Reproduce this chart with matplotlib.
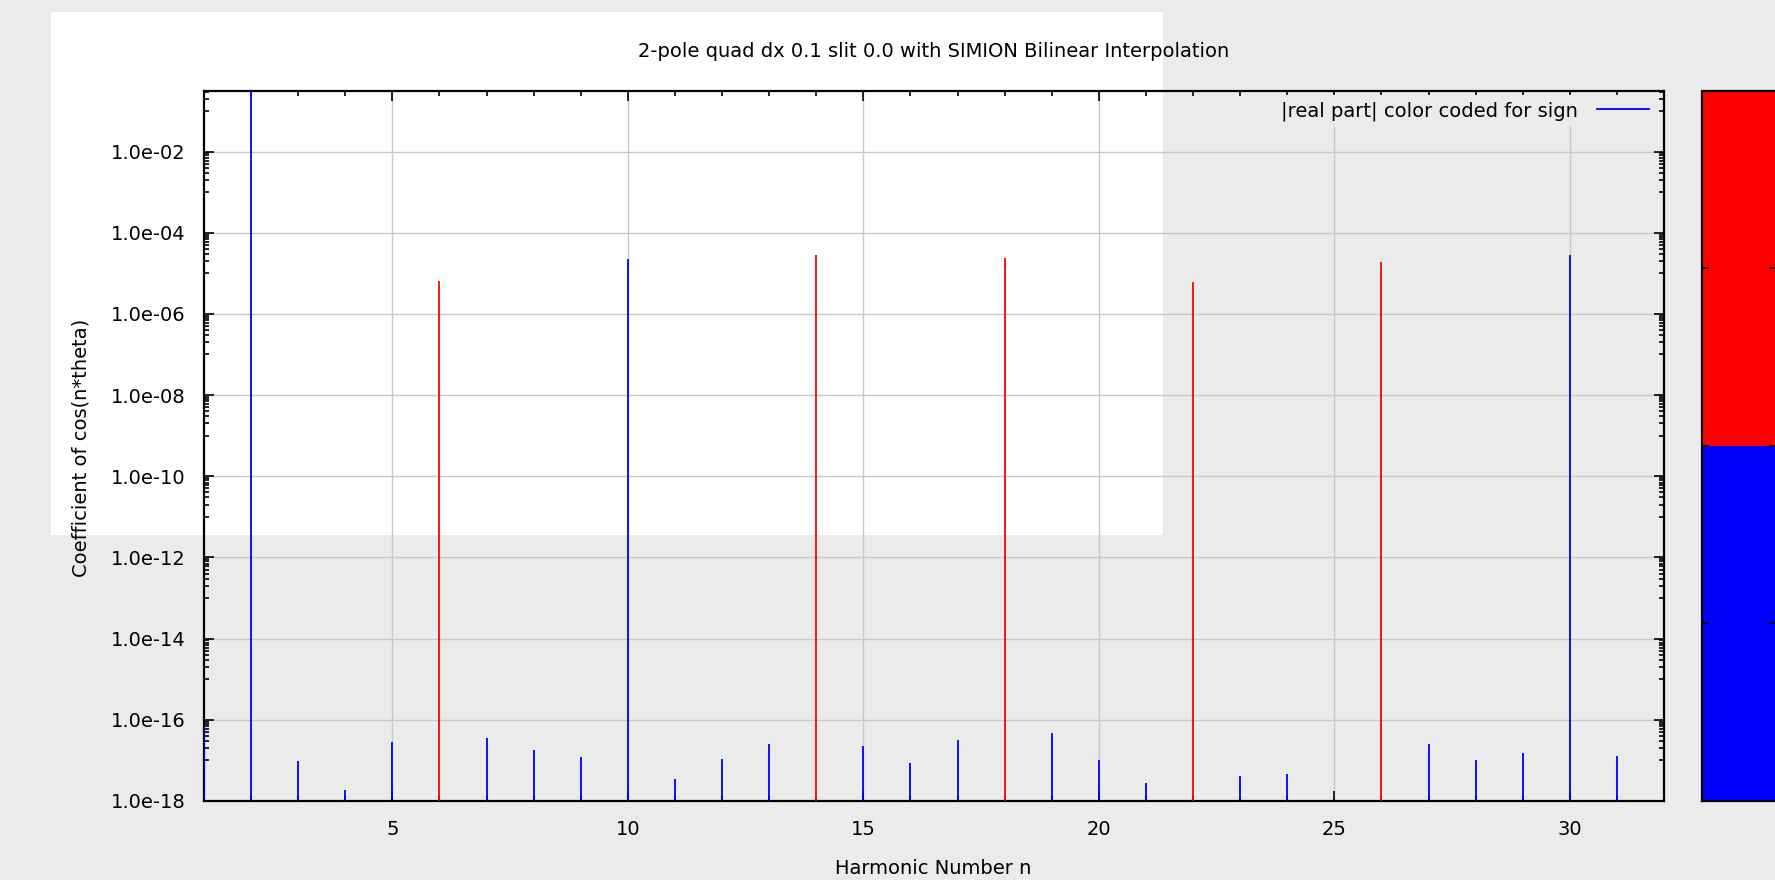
import numpy as np
import matplotlib
matplotlib.use("Agg")
from matplotlib import pyplot as plt
from matplotlib.colors import ListedColormap, Normalize
from matplotlib.cm import ScalarMappable
from matplotlib.patches import Rectangle
from matplotlib.ticker import FixedLocator, FuncFormatter, NullFormatter

# harmonic number n and |real part| of the cos(n*theta) coefficient
harmonics = list(range(1, 32))
coeff_abs = [
    6.9e-17, 0.31, 9.4e-18, 1.9e-18, 2.9e-17, 6.4e-6, 3.6e-17, 1.8e-17,
    1.2e-17, 2.2e-5, 3.4e-18, 1.07e-17, 2.6e-17, 2.9e-5, 2.2e-17, 8.8e-18,
    3.2e-17, 2.4e-5, 4.6e-17, 1.0e-17, 2.8e-18, 6.0e-6, 4.1e-18, 4.6e-18,
    5.0e-19, 1.9e-5, 2.6e-17, 1.0e-17, 1.5e-17, 2.8e-5, 1.3e-17,
]
# sign of the real part: +1 red, -1 blue
coeff_sign = [
    -1, -1, -1, -1, -1, 1, -1, -1, -1, -1, -1, -1, -1, 1, -1, -1,
    -1, 1, -1, -1, -1, 1, -1, -1, -1, 1, -1, -1, -1, -1, -1,
]

title = "2-pole quad dx 0.1 slit 0.0 with SIMION Bilinear Interpolation"
x_label = "Harmonic Number n"
y_label = "Coefficient of cos(n*theta)"
legend_label = "|real part| color coded for sign"

bg = "#ebebeb"
plt.rcParams["font.family"] = ["DejaVu Sans"]
plt.rcParams["font.size"] = 14

fig = plt.figure(figsize=(17.75, 8.8), dpi=100, facecolor=bg)

# white panel behind the upper-left part of the plot
fig.patches.append(Rectangle((0.0287, 0.3915), 0.6265, 0.5943,
                             transform=fig.transFigure, facecolor="white",
                             edgecolor="none", zorder=-5))

ax = fig.add_axes([0.1149, 0.0898, 0.8226, 0.8068])
ax.set_facecolor("none")
ax.set_yscale("log")
ax.set_xlim(1, 32)
ax.set_ylim(1e-18, 0.31)

cmap = ListedColormap(["#0000ff", "#ff0000"])
colors = ["#ff0000" if s > 0 else "#0000ff" for s in coeff_sign]
ax.vlines(harmonics, 1e-18, coeff_abs, colors=colors, lw=1.3, zorder=3)
ax.plot([], [], color="#0000ff", lw=1.3, label=legend_label)

# ticks, gnuplot style
major_y = [10.0 ** k for k in range(-18, 0, 2)]
minor_y = [10.0 ** (k + 1) * m for k in range(-18, 0, 2) for m in range(1, 10)]
ax.yaxis.set_major_locator(FixedLocator(major_y))
ax.yaxis.set_minor_locator(FixedLocator(minor_y))
ax.yaxis.set_major_formatter(FuncFormatter(lambda v, p: f"{v:.1e}"))
ax.yaxis.set_minor_formatter(NullFormatter())
ax.xaxis.set_major_locator(FixedLocator([5, 10, 15, 20, 25, 30]))
ax.xaxis.set_minor_locator(FixedLocator(range(1, 33)))
ax.xaxis.set_minor_formatter(NullFormatter())
ax.tick_params(which="both", direction="in", top=True, right=True, width=1.2)
ax.tick_params(which="major", length=7)
ax.tick_params(which="minor", length=3.5)
ax.tick_params(axis="y", which="major", pad=13, labelsize=14)
ax.tick_params(axis="x", which="major", pad=14, labelsize=14)
ax.grid(True, which="major", color="#c8c8c8", lw=1.0, zorder=1)
for s in ax.spines.values():
    s.set_linewidth(1.6)

leg = ax.legend(loc="upper right", frameon=True, facecolor=bg, edgecolor="none",
                framealpha=1, markerfirst=False, handlelength=2.7,
                handletextpad=1.0, borderpad=0.3, borderaxespad=0.0,
                bbox_to_anchor=(0.994, 0.994), fontsize=14)
leg.get_frame().set_boxstyle("square", pad=0.0)

fig.text(0.526, 0.941, title, ha="center", va="center", fontsize=14)
fig.text(0.526, 0.013, x_label, ha="center", va="center", fontsize=14)
fig.text(0.0456, 0.491, y_label, ha="center", va="center", rotation=90,
         fontsize=14)

# sign colour bar (cut off at the right edge)
cax = fig.add_axes([0.9589, 0.0898, 0.0417, 0.8068])
sm = ScalarMappable(norm=Normalize(-1, 1), cmap=cmap)
cb = fig.colorbar(sm, cax=cax)
cb.set_ticks([-1, -0.5, 0, 0.5, 1])
cax.tick_params(direction="in", left=True, right=True, length=5,
                labelright=False, width=1.2)
cb.outline.set_linewidth(1.6)

fig.savefig("out.png", dpi=100, facecolor=bg)
